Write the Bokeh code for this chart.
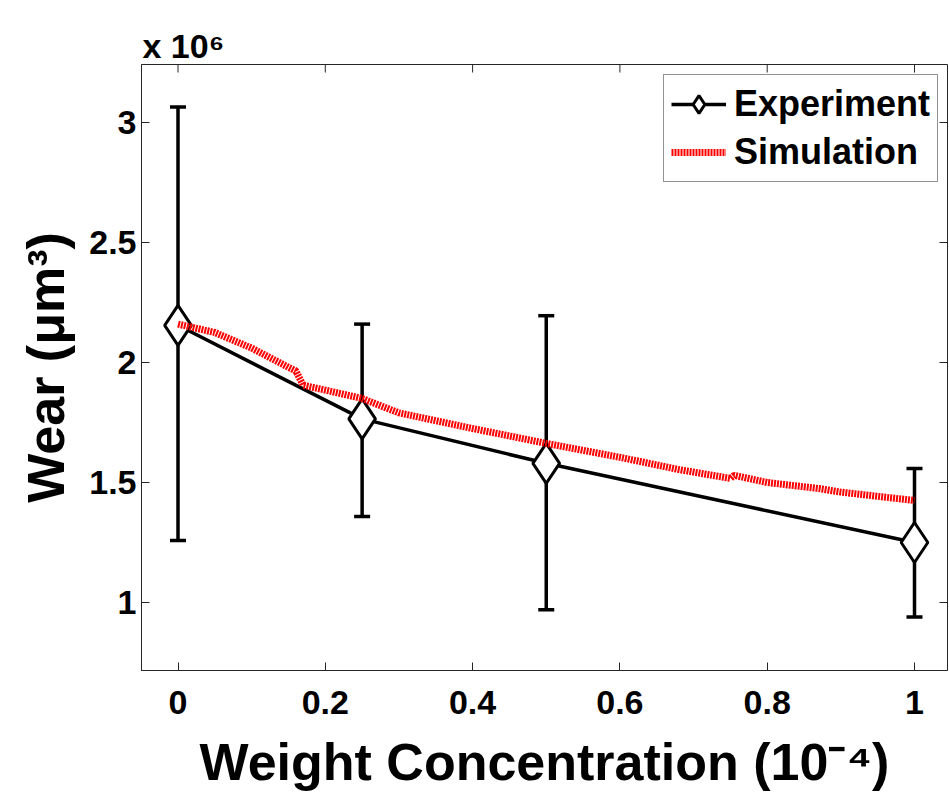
import math
from bokeh.plotting import figure
from bokeh.models import (ColumnDataSource, Whisker, TeeHead, FixedTicker,
                          Legend, LegendItem, Range1d)
from bokeh.embed import file_html
from bokeh.resources import INLINE

# ---- data (wear values in units of 1e6 um^3) ----
exp_conc = [0.0, 0.25, 0.5, 1.0]
exp_wear = [2.155, 1.765, 1.58, 1.25]
exp_upper = [3.065, 2.16, 2.195, 1.558]
exp_lower = [1.258, 1.358, 0.97, 0.94]

sim_conc = [0.0, 0.05, 0.1, 0.15, 0.16, 0.17, 0.2, 0.25, 0.3, 0.4, 0.5, 0.6,
            0.68, 0.75, 0.755, 0.8, 0.87, 0.9, 1.0]
sim_wear = [2.16, 2.125, 2.06, 1.98, 1.965, 1.905, 1.885, 1.85, 1.79, 1.725,
            1.663, 1.605, 1.554, 1.517, 1.53, 1.50, 1.475, 1.46, 1.425]

x_ticks = [0, 0.2, 0.4, 0.6, 0.8, 1.0]
x_tick_labels = ["0", "0.2", "0.4", "0.6", "0.8", "1"]
y_ticks = [1.0, 1.5, 2.0, 2.5, 3.0]
y_tick_labels = ["1", "1.5", "2", "2.5", "3"]

x_label = "Weight Concentration (10\u207b\u2074)"
y_label = "Wear (\u03bcm\u00b3)"
scale_label = "x 10\u2076"

FONT = "Liberation Sans"
W, H = 949, 795
FL, FT, FR, FB = 141, 64, 2, 125
FW = W - FL - FR
FH = H - FT - FB
XS = 736.5   # px per unit
YS = 240.0   # px per unit
x0 = -36.5 / XS
x1 = x0 + FW / XS
y0 = 0.7167
y1 = y0 + FH / YS

p = figure(width=W, height=H, output_backend="svg", toolbar_location=None,
           x_range=Range1d(x0, x1), y_range=Range1d(y0, y1),
           min_border_left=FL, min_border_right=FR, min_border_top=FT, min_border_bottom=FB,
           background_fill_color="white", border_fill_color="white")
p.outline_line_color = "#262626"
p.outline_line_width = 1
p.xgrid.visible = False
p.ygrid.visible = False

p.title.text = scale_label
p.title.align = "left"
p.title.text_font = FONT
p.title.text_font_style = "bold"
p.title.text_font_size = "34px"
p.title.text_color = "black"
p.title.standoff = 0
p.title.offset = 1

def style_axis(ax, ticks, labels):
    ax.ticker = FixedTicker(ticks=ticks)
    ax.major_label_overrides = {t: l for t, l in zip(ticks, labels)}
    ax.minor_tick_line_color = None
    ax.major_tick_in = 8
    ax.major_tick_out = 0
    ax.major_tick_line_color = "#262626"
    ax.axis_line_color = "#262626"
    ax.axis_line_width = 1
    ax.major_label_text_font = FONT
    ax.major_label_text_font_style = "bold"
    ax.major_label_text_font_size = "34px"
    ax.major_label_text_color = "black"
    ax.axis_label_text_font = FONT
    ax.axis_label_text_font_style = "bold"
    ax.axis_label_text_font_size = "52px"
    ax.axis_label_text_color = "black"

style_axis(p.xaxis[0], x_ticks, x_tick_labels)
p.xaxis[0].major_label_standoff = 20
p.xaxis[0].axis_label = x_label
p.xaxis[0].axis_label_standoff = 16
style_axis(p.yaxis[0], y_ticks, y_tick_labels)
p.yaxis[0].major_label_standoff = 5
p.yaxis[0].axis_label = y_label
p.yaxis[0].axis_label_standoff = 11

# inward ticks on the top and right edges of the box
p.scatter(x=x_ticks, y=[y1] * len(x_ticks), marker="dash", angle=math.pi / 2, size=16,
          line_color="#262626", line_width=1)
p.scatter(x=[x1] * len(y_ticks), y=y_ticks, marker="dash", size=16,
          line_color="#262626", line_width=1)

src = ColumnDataSource(dict(x=exp_conc, y=exp_wear, up=exp_upper, lo=exp_lower))
sim = ColumnDataSource(dict(x=sim_conc, y=sim_wear))

wh = Whisker(source=src, base="x", upper="up", lower="lo", dimension="height",
             line_color="black", line_width=3.5,
             upper_head=TeeHead(size=16, line_width=3.5, line_color="black"),
             lower_head=TeeHead(size=16, line_width=3.5, line_color="black"))
p.add_layout(wh)

exp_line = p.line("x", "y", source=src, line_color="black", line_width=3.5)
exp_mark = p.scatter("x", "y", source=src, marker="diamond", size=40,
                     fill_color="white", line_color="black", line_width=3)
sim_line = p.line("x", "y", source=sim, line_color="#ff0000", line_width=7,
                  line_dash="2 1", line_cap="butt")

legend = Legend(items=[LegendItem(label="Experiment", renderers=[exp_line, exp_mark]),
                       LegendItem(label="Simulation", renderers=[sim_line])],
                location=(522, 488), orientation="vertical")
legend.label_text_font = FONT
legend.label_text_font_style = "bold"
legend.label_text_font_size = "36px"
legend.label_text_color = "black"
legend.glyph_width = 55
legend.glyph_height = 44
legend.label_height = 44
legend.label_standoff = 8
legend.spacing = 4
legend.padding = 7
legend.margin = 0
legend.border_line_color = "#262626"
legend.border_line_width = 1
legend.background_fill_alpha = 1.0
p.add_layout(legend)

open("out.html", "w").write(file_html(p, INLINE))
